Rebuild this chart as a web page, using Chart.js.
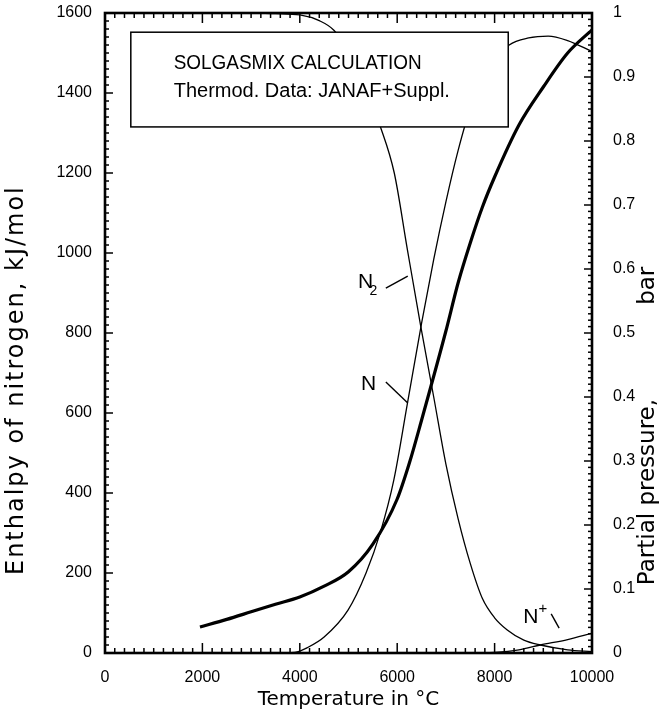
<!DOCTYPE html>
<html><head><meta charset="utf-8">
<script src="https://cdn.jsdelivr.net/npm/chart.js@4"></script>
<style>html,body{margin:0;padding:0;background:#fff;}canvas{display:block;}</style>
</head><body>
<canvas id="c" width="661" height="712"></canvas>
<script>
// ---- data ----
const enthalpyT = [1950, 2500, 3000, 3500, 4000, 4500, 5000, 5500, 6000, 6250, 6500, 7000, 7250, 7500, 7750, 8000, 8500, 9000, 9500, 10000];
const enthalpyH = [65, 84, 103, 122, 140, 167, 203, 272, 385, 475, 582, 805, 925, 1025, 1115, 1190, 1320, 1415, 1500, 1558];

const n2T = [2000, 3000, 3500, 4000, 4400, 4700, 5000, 5300, 5665, 5940, 6210, 6480, 6750, 7000, 7250, 7500, 7750, 8000, 8260, 8600, 8940, 9500, 10000];
const n2P = [1.0, 1.0, 0.999, 0.997, 0.988, 0.973, 0.94, 0.89, 0.82, 0.75, 0.63, 0.512, 0.40, 0.295, 0.21, 0.14, 0.085, 0.055, 0.036, 0.02, 0.0125, 0.005, 0.002];

const nT = [2000, 3500, 3900, 4170, 4500, 4990, 5360, 5660, 5930, 6210, 6500, 6750, 7000, 7250, 7500, 8000, 8300, 8700, 9100, 9500, 10000];
const nP = [0, 0, 0.001, 0.009, 0.025, 0.067, 0.125, 0.19, 0.27, 0.39, 0.515, 0.615, 0.705, 0.785, 0.85, 0.925, 0.95, 0.961, 0.964, 0.957, 0.94];

const nPlusT = [2000, 7500, 8000, 8500, 8940, 9500, 10000];
const nPlusP = [0, 0, 0.001, 0.005, 0.0125, 0.021, 0.031];

const xTickValues = [0, 2000, 4000, 6000, 8000, 10000];
const leftTickValues = [0, 200, 400, 600, 800, 1000, 1200, 1400, 1600];
const rightTickValues = [0, 0.1, 0.2, 0.3, 0.4, 0.5, 0.6, 0.7, 0.8, 0.9, 1];

const xTitle = 'Temperature in °C';
const leftTitle = 'Enthalpy of nitrogen, kJ/mol';
const rightTitleA = 'Partial pressure,';
const rightTitleB = 'bar';
const boxLines = ['SOLGASMIX CALCULATION', 'Thermod. Data: JANAF+Suppl.'];

const zip = (xs, ys) => xs.map((v, i) => ({x: v, y: ys[i]}));

const decor = {
  id: 'decor',
  afterDatasetsDraw(chart) {
    const {ctx, chartArea: a, scales} = chart;
    const X = scales.x, Y = scales.y, P = scales.y2;
    const line = (x1, y1, x2, y2) => { ctx.beginPath(); ctx.moveTo(x1, y1); ctx.lineTo(x2, y2); ctx.stroke(); };
    ctx.save();
    ctx.strokeStyle = '#000'; ctx.fillStyle = '#000';

    // annotation box
    const bx1 = X.getPixelForValue(530), bx2 = X.getPixelForValue(8280);
    const by1 = P.getPixelForValue(0.970), by2 = P.getPixelForValue(0.822);
    ctx.fillStyle = '#fff';
    ctx.fillRect(bx1, by1, bx2 - bx1, by2 - by1);
    ctx.lineWidth = 1.5;
    ctx.strokeRect(bx1, by1, bx2 - bx1, by2 - by1);
    ctx.fillStyle = '#000';
    ctx.font = '20px "Liberation Sans"';
    ctx.textAlign = 'left'; ctx.textBaseline = 'alphabetic';
    ctx.fillText(boxLines[0], X.getPixelForValue(1410), P.getPixelForValue(0.9125), 248);
    ctx.fillText(boxLines[1], X.getPixelForValue(1410), P.getPixelForValue(0.869), 288);

    // curve labels
    ctx.lineWidth = 1.4;
    ctx.font = '21px "Liberation Sans"';
    ctx.fillText('N', X.getPixelForValue(5194), P.getPixelForValue(0.570));
    ctx.font = '14px "Liberation Sans"';
    ctx.fillText('2', X.getPixelForValue(5430), P.getPixelForValue(0.560));
    line(X.getPixelForValue(5767), P.getPixelForValue(0.570), X.getPixelForValue(6217), P.getPixelForValue(0.589));

    ctx.font = '21px "Liberation Sans"';
    ctx.fillText('N', X.getPixelForValue(5256), P.getPixelForValue(0.411));
    line(X.getPixelForValue(5767), P.getPixelForValue(0.4234), X.getPixelForValue(6217), P.getPixelForValue(0.3906));

    ctx.fillText('N', X.getPixelForValue(8589), P.getPixelForValue(0.047));
    ctx.font = '15px "Liberation Sans"';
    ctx.fillText('+', X.getPixelForValue(8900), P.getPixelForValue(0.062));
    line(X.getPixelForValue(9162), P.getPixelForValue(0.061), X.getPixelForValue(9325), P.getPixelForValue(0.039));

    // tick marks (inward)
    ctx.lineWidth = 1.5;
    for (let t = 0; t <= 10000; t += 200) {
      const px = X.getPixelForValue(t);
      const major = t % 2000 === 0;
      line(px, a.bottom, px, a.bottom - (major ? 10 : 5));
      line(px, a.top, px, a.top + (major ? 10 : 5));
    }
    for (let h = 0; h <= 1600; h += 20) {
      const py = Y.getPixelForValue(h);
      line(a.left, py, a.left + (h % 200 === 0 ? 8 : 4), py);
    }
    for (let i = 0; i <= 100; i++) {
      const py = P.getPixelForValue(i / 100);
      line(a.right, py, a.right - (i % 10 === 0 ? 8 : 4), py);
    }

    // frame
    ctx.lineWidth = 2.6;
    ctx.strokeRect(a.left, a.top, a.right - a.left, a.bottom - a.top);

    // vertical axis titles
    ctx.textAlign = 'left'; ctx.textBaseline = 'middle';
    ctx.font = '24px "DejaVu Sans"';
    ctx.save();
    if ('letterSpacing' in ctx) ctx.letterSpacing = '2px';
    ctx.translate(a.left - 88, Y.getPixelForValue(195));
    ctx.rotate(-Math.PI / 2);
    ctx.fillText(leftTitle, 0, 0);
    ctx.restore();

    ctx.font = '23px "DejaVu Sans"';
    ctx.save();
    ctx.translate(a.right + 56, P.getPixelForValue(0.106));
    ctx.rotate(-Math.PI / 2);
    ctx.fillText(rightTitleA, 0, 0);
    ctx.restore();
    ctx.save();
    ctx.translate(a.right + 56, P.getPixelForValue(0.544));
    ctx.rotate(-Math.PI / 2);
    ctx.fillText(rightTitleB, 0, 0);
    ctx.restore();

    ctx.restore();
  }
};

const tickFont = {family: '"Liberation Sans"', size: 16};
const noPad = s => { s.paddingTop = 0; s.paddingBottom = 0; s.paddingLeft = 0; s.paddingRight = 0; };

new Chart(document.getElementById('c'), {
  type: 'line',
  data: {
    datasets: [
      {label: 'Enthalpy', data: zip(enthalpyT, enthalpyH), yAxisID: 'y', borderColor: '#000', borderWidth: 3.2, pointRadius: 0, cubicInterpolationMode: 'monotone', fill: false},
      {label: 'N2', data: zip(n2T, n2P), yAxisID: 'y2', borderColor: '#000', borderWidth: 1.3, pointRadius: 0, cubicInterpolationMode: 'monotone', fill: false},
      {label: 'N', data: zip(nT, nP), yAxisID: 'y2', borderColor: '#000', borderWidth: 1.3, pointRadius: 0, cubicInterpolationMode: 'monotone', fill: false},
      {label: 'N+', data: zip(nPlusT, nPlusP), yAxisID: 'y2', borderColor: '#000', borderWidth: 1.3, pointRadius: 0, cubicInterpolationMode: 'monotone', fill: false}
    ]
  },
  options: {
    responsive: false,
    animation: false,
    events: [],
    layout: {padding: {top: 13, left: 0, right: 0, bottom: 0}},
    plugins: {legend: {display: false}, tooltip: {enabled: false}},
    scales: {
      x: {
        type: 'linear', position: 'bottom', min: 0, max: 10000,
        afterFit: s => { s.height = 59; noPad(s); },
        afterBuildTicks: s => { s.ticks = xTickValues.map(v => ({value: v})); },
        grid: {display: false, drawTicks: false},
        border: {display: false},
        ticks: {color: '#000', font: tickFont, padding: 15, maxRotation: 0, callback: v => String(v)},
        title: {display: true, text: xTitle, color: '#000', font: {family: '"DejaVu Sans"', size: 20}, padding: 0}
      },
      y: {
        type: 'linear', position: 'left', min: 0, max: 1600,
        afterFit: s => { s.width = 105; noPad(s); },
        afterBuildTicks: s => { s.ticks = leftTickValues.map(v => ({value: v})); },
        grid: {display: false, drawTicks: false},
        border: {display: false},
        ticks: {color: '#000', font: tickFont, padding: 13, callback: v => String(v)}
      },
      y2: {
        type: 'linear', position: 'right', min: 0, max: 1,
        afterFit: s => { s.width = 69; noPad(s); },
        afterBuildTicks: s => { s.ticks = rightTickValues.map(v => ({value: v})); },
        grid: {display: false, drawTicks: false},
        border: {display: false},
        ticks: {color: '#000', font: tickFont, padding: 21, callback: v => String(+v.toFixed(2))}
      }
    }
  },
  plugins: [decor]
});
</script>
</body></html>
